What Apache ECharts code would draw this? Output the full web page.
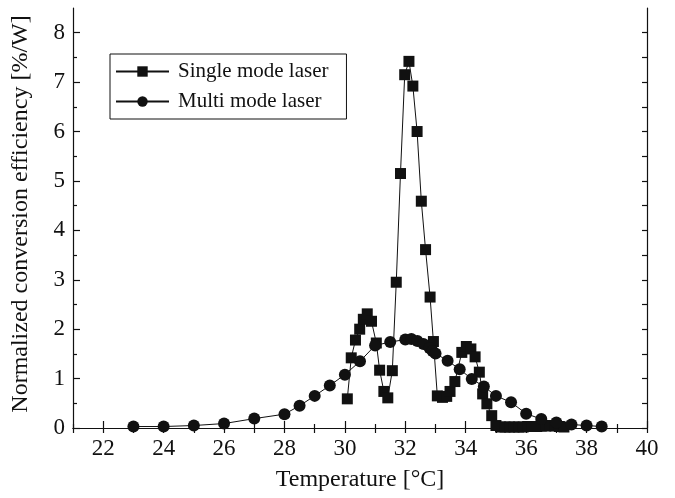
<!DOCTYPE html>
<html>
<head>
<meta charset="utf-8">
<script src="https://cdn.jsdelivr.net/npm/echarts@6/dist/echarts.min.js"></script>
<style>
  html, body { margin: 0; padding: 0; background: #fff; }
  #chart { width: 675px; height: 498px; }
</style>
</head>
<body>
<div id="chart"></div>
<script>
// Single mode laser (squares)
const singleX = [30.08, 30.21, 30.35, 30.49, 30.61, 30.74, 30.88, 31.04, 31.15, 31.29, 31.42, 31.57, 31.70, 31.84, 31.98, 32.12, 32.25, 32.39, 32.53, 32.67, 32.82, 32.93, 33.06, 33.23, 33.37, 33.48, 33.64, 33.87, 34.02, 34.17, 34.31, 34.45, 34.56, 34.70, 34.86, 35.00, 35.15, 35.30, 35.45, 35.60, 35.75, 35.90, 36.05, 36.20, 36.35, 36.50, 36.65, 36.80, 36.95, 37.10, 37.25];
const singleY = [0.59, 1.42, 1.78, 2.00, 2.20, 2.31, 2.16, 1.72, 1.17, 0.74, 0.61, 1.16, 2.95, 5.15, 7.15, 7.42, 6.92, 6.00, 4.59, 3.61, 2.65, 1.75, 0.65, 0.62, 0.64, 0.74, 0.94, 1.53, 1.65, 1.60, 1.44, 1.13, 0.69, 0.49, 0.25, 0.05, 0.02, 0.02, 0.02, 0.02, 0.02, 0.02, 0.03, 0.03, 0.03, 0.04, 0.04, 0.05, 0.04, 0.03, 0.02];

// Multi mode laser (circles)
const multiX = [23, 24, 25, 26, 27, 28, 28.5, 29, 29.5, 30, 30.5, 31, 31.5, 32, 32.2, 32.4, 32.6, 32.8, 32.9, 33.0, 33.4, 33.8, 34.2, 34.6, 35.0, 35.5, 36.0, 36.5, 37.0, 37.5, 38.0, 38.5];
const multiY = [0.03, 0.03, 0.05, 0.09, 0.19, 0.28, 0.45, 0.65, 0.86, 1.08, 1.35, 1.67, 1.74, 1.79, 1.80, 1.76, 1.70, 1.62, 1.56, 1.51, 1.36, 1.19, 0.99, 0.84, 0.65, 0.52, 0.29, 0.18, 0.11, 0.07, 0.05, 0.03];

const xMajor = [22, 24, 26, 28, 30, 32, 34, 36, 38, 40];
const xMinor = [21, 23, 25, 27, 29, 31, 33, 35, 37, 39];
const xTop = [21, 22, 23, 24, 25, 26, 27, 28, 29, 30, 31, 32, 33, 34, 35, 36, 37, 38, 39, 40];
const yMajor = [0, 1, 2, 3, 4, 5, 6, 7, 8];
const yMinor = [0.5, 1.5, 2.5, 3.5, 4.5, 5.5, 6.5, 7.5];
const yRight = [0, 0.5, 1, 1.5, 2, 2.5, 3, 3.5, 4, 4.5, 5, 5.5, 6, 6.5, 7, 7.5, 8];

const FONT = "'Liberation Serif', 'Times New Roman', serif";
const INK = "#111";

const pairs = (xs, ys) => xs.map((x, i) => [x, ys[i]]);

const lineAxis = { show: true, lineStyle: { color: INK, width: 1.2 } };

const xBase = { type: "value", min: 21, max: 40, interval: 1, splitLine: { show: false } };
const yBase = { type: "value", min: 0, max: 8.5, interval: 0.5, splitLine: { show: false } };

const chart = echarts.init(document.getElementById("chart"));

chart.setOption({
  animation: false,
  backgroundColor: "#fff",
  grid: { left: 73, right: 28, top: 8, bottom: 70, containLabel: false },
  legend: {
    orient: "vertical",
    left: 110,
    top: 54,
    padding: [7, 18, 7, 5],
    itemWidth: 53,
    itemHeight: 13,
    itemGap: 9,
    borderColor: INK,
    borderWidth: 1,
    textStyle: { fontFamily: FONT, fontSize: 21, color: INK, padding: [0, 0, 0, 4] },
    data: ["Single mode laser", "Multi mode laser"],
  },
  xAxis: [
    {
      ...xBase,
      position: "bottom",
      axisLine: lineAxis,
      axisTick: { inside: true, length: 7, customValues: xMajor, lineStyle: { color: INK, width: 1.2 } },
      axisLabel: { customValues: xMajor, margin: 9, fontFamily: FONT, fontSize: 23, color: INK },
      name: "Temperature [°C]",
      nameLocation: "middle",
      nameGap: 40,
      nameTextStyle: { fontFamily: FONT, fontSize: 24, color: INK },
    },
    {
      ...xBase,
      position: "bottom",
      axisLine: { show: false },
      axisTick: { inside: true, length: 4, customValues: xMinor, lineStyle: { color: INK, width: 1.2 } },
      axisLabel: { show: false },
    },
    {
      ...xBase,
      position: "top",
      axisLine: lineAxis,
      axisTick: { inside: true, length: 5, customValues: xTop, lineStyle: { color: INK, width: 1.2 } },
      axisLabel: { show: false },
    },
  ],
  yAxis: [
    {
      ...yBase,
      position: "left",
      axisLine: lineAxis,
      axisTick: { inside: true, length: 7, customValues: yMajor, lineStyle: { color: INK, width: 1.2 } },
      axisLabel: { customValues: yMajor, margin: 8, fontFamily: FONT, fontSize: 23, color: INK },
      name: "Normalized conversion efficiency [%/W]",
      nameLocation: "middle",
      nameGap: 40,
      nameTextStyle: { fontFamily: FONT, fontSize: 24, color: INK, padding: [0, 0, 0, 8] },
    },
    {
      ...yBase,
      position: "left",
      axisLine: { show: false },
      axisTick: { inside: true, length: 4, customValues: yMinor, lineStyle: { color: INK, width: 1.2 } },
      axisLabel: { show: false },
    },
    {
      ...yBase,
      position: "right",
      axisLine: lineAxis,
      axisTick: { inside: true, length: 5, customValues: yRight, lineStyle: { color: INK, width: 1.2 } },
      axisLabel: { show: false },
    },
  ],
  series: [
    {
      name: "Single mode laser",
      type: "line",
      xAxisIndex: 0,
      yAxisIndex: 0,
      data: pairs(singleX, singleY),
      symbol: "rect",
      symbolSize: 11,
      showAllSymbol: true,
      lineStyle: { color: INK, width: 1 },
      itemStyle: { color: INK, borderWidth: 0 },
    },
    {
      name: "Multi mode laser",
      type: "line",
      xAxisIndex: 0,
      yAxisIndex: 0,
      data: pairs(multiX, multiY),
      symbol: "circle",
      symbolSize: 12,
      showAllSymbol: true,
      lineStyle: { color: INK, width: 1 },
      itemStyle: { color: INK, borderWidth: 0 },
    },
  ],
});
</script>
</body>
</html>
